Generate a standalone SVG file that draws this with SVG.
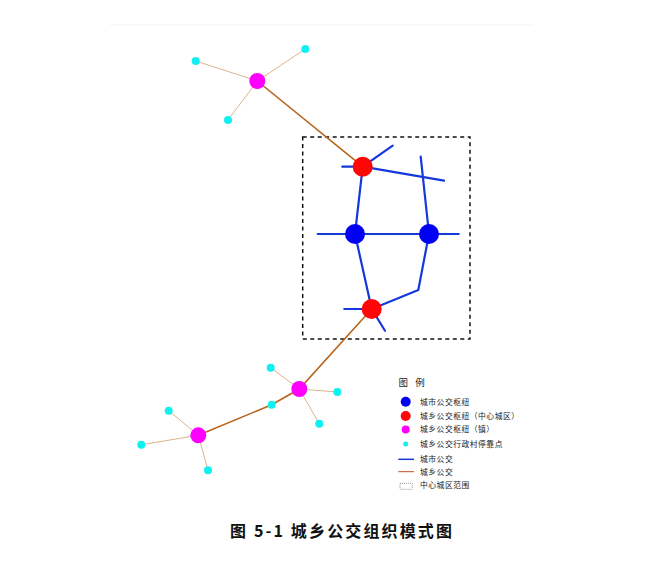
<svg xmlns="http://www.w3.org/2000/svg" width="670" height="561" viewBox="0 0 670 561">
<style>
.city{stroke:#1538dc;stroke-width:2.2;fill:none;stroke-linecap:round}
.rural{stroke:#b8651b;stroke-width:1.6;fill:none}
.spoke{stroke:#d0a070;stroke-width:0.8;fill:none}
.blue{fill:#0000f5}
.red{fill:#ff0505}
.mag{fill:#ff00ff}
.cyan{fill:#10f0f0}
.lg{font-family:"Noto Sans CJK SC","Noto Sans",sans-serif;font-size:7.8px;letter-spacing:0.5px;fill:#222}
</style>
<rect width="670" height="561" fill="#fff"/>
<line x1="110" y1="25" x2="534" y2="25" stroke="#f3f3f3" stroke-width="1"/>
<g id="central-area">
<rect x="302.7" y="137" width="167.3" height="202" fill="none" stroke="#111" stroke-width="1.5" stroke-dasharray="4,3.5"/>
</g>
<g id="connectors">
<line class="city" x1="342.3" y1="166.7" x2="362.7" y2="166.7"/>
<line class="city" x1="362.7" y1="166.7" x2="392.7" y2="145.7"/>
<line class="city" x1="362.7" y1="166.7" x2="444" y2="180.7"/>
<line class="city" x1="420.7" y1="156.7" x2="429" y2="234"/>
<line class="city" x1="362.7" y1="166.7" x2="355" y2="234"/>
<line class="city" x1="317.7" y1="234" x2="458.7" y2="234"/>
<line class="city" x1="355" y1="234" x2="371.7" y2="309"/>
<polyline class="city" points="429,234 418.3,290 371.7,309"/>
<line class="city" x1="344.3" y1="309" x2="371.7" y2="309"/>
<line class="city" x1="371.7" y1="309" x2="385" y2="330.7"/>
<line class="rural" x1="257.3" y1="81" x2="362.7" y2="166.7"/>
<polyline class="rural" points="371.7,309 299.3,389 271.7,404.7 198.3,435.3"/>
<line class="spoke" x1="257.3" y1="81" x2="195.7" y2="61"/>
<line class="spoke" x1="257.3" y1="81" x2="305.3" y2="49"/>
<line class="spoke" x1="257.3" y1="81" x2="228" y2="120"/>
<line class="spoke" x1="299.3" y1="389" x2="270.7" y2="367.7"/>
<line class="spoke" x1="299.3" y1="389" x2="337.3" y2="392"/>
<line class="spoke" x1="299.3" y1="389" x2="319.3" y2="423.7"/>
<line class="spoke" x1="198.3" y1="435.3" x2="168.7" y2="410.7"/>
<line class="spoke" x1="198.3" y1="435.3" x2="141.3" y2="444.7"/>
<line class="spoke" x1="198.3" y1="435.3" x2="208" y2="470.3"/>
</g>
<g id="hub-red-top"><circle class="red" cx="362.7" cy="166.7" r="10"/></g>
<g id="hub-blue-left"><circle class="blue" cx="355" cy="234" r="10"/></g>
<g id="hub-blue-right"><circle class="blue" cx="429" cy="234" r="10"/></g>
<g id="hub-red-bottom"><circle class="red" cx="371.7" cy="309" r="10"/></g>
<g id="town-top"><circle class="mag" cx="257.3" cy="81" r="8"/></g>
<g id="town-mid"><circle class="mag" cx="299.3" cy="389" r="8"/></g>
<g id="town-low"><circle class="mag" cx="198.3" cy="435.3" r="8"/></g>
<g id="stop-1"><circle class="cyan" cx="195.7" cy="61" r="4"/></g>
<g id="stop-2"><circle class="cyan" cx="305.3" cy="49" r="4"/></g>
<g id="stop-3"><circle class="cyan" cx="228" cy="120" r="4"/></g>
<g id="stop-4"><circle class="cyan" cx="270.7" cy="367.7" r="4"/></g>
<g id="stop-5"><circle class="cyan" cx="337.3" cy="392" r="4"/></g>
<g id="stop-6"><circle class="cyan" cx="319.3" cy="423.7" r="4"/></g>
<g id="stop-7"><circle class="cyan" cx="271.7" cy="404.7" r="4"/></g>
<g id="stop-8"><circle class="cyan" cx="168.7" cy="410.7" r="4"/></g>
<g id="stop-9"><circle class="cyan" cx="141.3" cy="444.7" r="4"/></g>
<g id="stop-10"><circle class="cyan" cx="208" cy="470.3" r="4"/></g>
<g id="legend">
<text x="398.5" y="386" font-family="'Noto Sans CJK SC','Noto Sans',sans-serif" font-size="9.5" fill="#222" letter-spacing="7.2">图例</text>
<circle class="blue" cx="405.7" cy="401.7" r="5"/>
<text class="lg" x="420" y="404.5">城市公交枢纽</text>
<circle class="red" cx="405.7" cy="416" r="5"/>
<text class="lg" x="420" y="418.8">城乡公交枢纽（中心城区）</text>
<circle class="mag" cx="405.7" cy="429.5" r="4"/>
<text class="lg" x="420" y="432.1">城乡公交枢纽（镇）</text>
<circle class="cyan" cx="405.7" cy="444" r="2.5"/>
<text class="lg" x="420" y="446.8">城乡公交行政村停靠点</text>
<line x1="398.3" y1="459.3" x2="414" y2="459.3" stroke="#1538dc" stroke-width="1.5"/>
<text class="lg" x="420" y="462.1">城市公交</text>
<line x1="398.3" y1="471.7" x2="414" y2="471.7" stroke="#c0501a" stroke-width="1"/>
<text class="lg" x="420" y="474.5">城乡公交</text>
<rect x="400" y="483.3" width="12.3" height="6" fill="none" stroke="#555" stroke-width="0.6" stroke-dasharray="1,1"/>
<text class="lg" x="420" y="488.1">中心城区范围</text>
</g>
<g id="caption">
<text x="341" y="536.5" text-anchor="middle" font-family="'Noto Sans CJK SC','Noto Sans',sans-serif" font-size="16" font-weight="bold" fill="#111" textLength="222" lengthAdjust="spacing">图 5-1 城乡公交组织模式图</text>
</g>
</svg>
